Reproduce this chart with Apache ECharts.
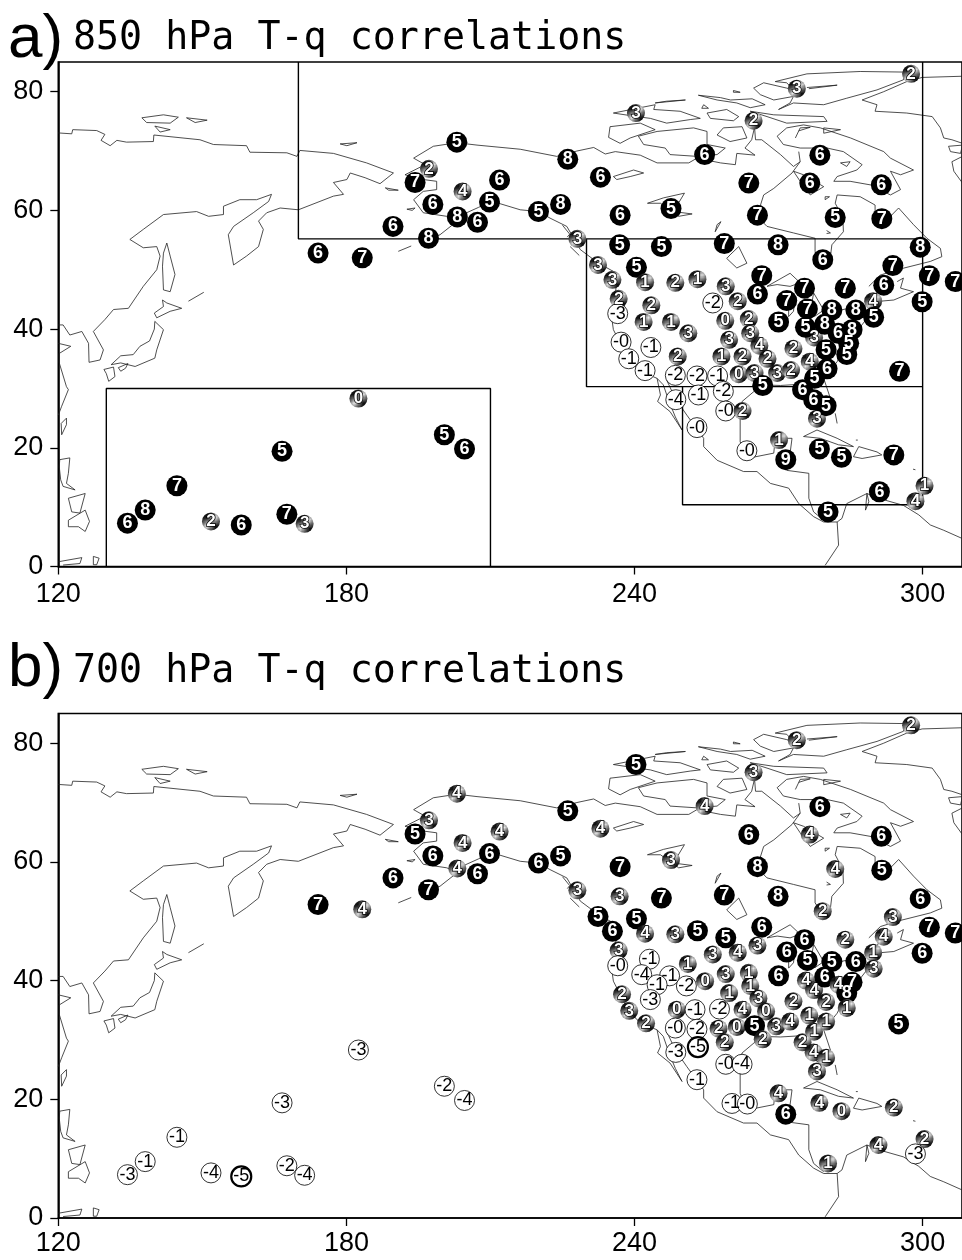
<!DOCTYPE html>
<html><head><meta charset="utf-8">
<style>html,body{margin:0;padding:0;background:#fff}#c{width:962px;height:1260px}</style>
<script src="https://cdn.jsdelivr.net/npm/echarts@6/dist/echarts.min.js"></script>
</head><body><div id="c"></div>
<script>
const xTicks = [120, 180, 240, 300];
const yTicks = [0, 20, 40, 60, 80];
const titleA = '850 hPa T-q correlations';
const titleB = '700 hPa T-q correlations';

// [longitude, latitude, correlation label]
const stationsA = [
[174.1,52.8,'6'],[183.3,52,'7'],[189.7,57.3,'6'],[197.1,55.3,'8'],[203.1,58.9,'8'],[207.3,58,'6'],[198,61,'6'],[197.2,67,'2'],[194.3,64.7,'7'],[203,71.5,'5'],[204.2,63.2,'4'],[209.8,61.4,'5'],[211.9,65.1,'6'],
[220,59.8,'5'],[224.6,61,'8'],[226.1,68.6,'8'],[232.9,65.6,'6'],[237,59.2,'6'],[247.6,60.3,'5'],[228.1,55.2,'3'],[236.9,54.2,'5'],[245.6,53.9,'5'],[258.7,54.4,'7'],[269.9,54.2,'8'],[279.2,51.7,'6'],[299.5,53.8,'8'],
[232.4,50.8,'3'],[235.4,48.3,'3'],[240.4,50.4,'5'],[242.2,47.9,'1'],[248.5,47.8,'2'],[253.1,48.4,'1'],[259,47.2,'3'],[266.5,49,'7'],[293.8,50.7,'7'],[301.4,49,'7'],[306.8,48,'7'],[291.9,47.4,'6'],[265.6,45.9,'6'],[261.5,44.7,'2'],[256.3,44.4,'-2'],[236.7,45.1,'2'],[299.9,44.6,'5'],
[240.3,76.4,'3'],[273.8,80.5,'3'],[297.6,83,'2'],[264.8,75.1,'2'],[254.6,69.4,'6'],[278.6,69.3,'6'],[276.5,64.6,'6'],[263.8,64.6,'7'],[291.4,64.3,'6'],[265.6,59.2,'7'],[281.8,58.8,'5'],[291.5,58.6,'7'],
[289.7,44.7,'4'],[277.4,38.6,'3'],[275.4,46.9,'7'],[271.7,44.8,'7'],[283.9,46.9,'7'],[270,41.2,'5'],[276,43.4,'7'],[281.1,43.2,'8'],[286.1,43.2,'8'],[289.8,42,'5'],[275.6,40.3,'5'],[284.6,37.6,'5'],[279.6,40.8,'8'],[285.3,39.9,'8'],[282.4,39.3,'6'],[284.2,35.7,'5'],[279.9,36.5,'5'],[295.2,32.9,'7'],[276.5,34.5,'4'],[280.1,33.3,'6'],[278,24.9,'3'],[277.5,31.7,'5'],[275,29.8,'6'],[277.3,28.1,'6'],[279.9,27.1,'5'],
[236.5,42.6,'-3'],[243.5,44,'2'],[241.9,41.2,'1'],[247.6,41.2,'1'],[251.2,39.3,'3'],[258.9,41.4,'0'],[263.8,41.7,'2'],[264.1,39.3,'3'],[259.7,38.2,'3'],[266,37.2,'4'],[273.1,36.7,'2'],[237.2,37.8,'-0'],[243.4,36.9,'-1'],[238.8,35,'-1'],[242.2,33,'-1'],[249,35.4,'2'],[258.1,35.4,'1'],[262.5,35.4,'2'],[267.7,35,'2'],
[248.5,32.2,'-2'],[253,32.1,'-2'],[257.3,32.1,'-1'],[261.7,32.4,'0'],[265,32.6,'3'],[269.7,32.6,'3'],[272.6,33.1,'2'],[266.7,30.5,'5'],[248.6,28.1,'-4'],[253.3,28.9,'-1'],[258.5,29.5,'-2'],[259,26.2,'-0'],[262.5,26.2,'2'],[253,23.4,'-0'],[263.4,19.5,'-0'],[270.1,21.3,'1'],[271.5,18,'9'],[278.5,19.8,'5'],[283.1,18.4,'5'],[294,18.8,'7'],[291,12.6,'6'],[300.4,13.6,'1'],[298.5,11,'4'],[280.3,9.2,'5'],
[182.5,28.3,'0'],[200.4,22.2,'5'],[204.6,19.8,'6'],[166.6,19.4,'5'],[144.7,13.6,'7'],[138.1,9.5,'8'],[134.4,7.3,'6'],[151.8,7.6,'2'],[158.1,7,'6'],[171.3,7.2,'3'],[167.6,8.8,'7']
];
const stationsB = [
[174.1,52.8,'7'],[183.3,52,'4'],[189.7,57.3,'6'],[197.1,55.3,'7'],[203.1,58.9,'4'],[207.3,58,'6'],[198,61,'6'],[197.2,67,'3'],[194.3,64.7,'5'],[203,71.5,'4'],[204.2,63.2,'4'],[209.8,61.4,'6'],[211.9,65.1,'4'],
[220,59.8,'6'],[224.6,61,'5'],[226.1,68.6,'5'],[232.9,65.6,'4'],[237,59.2,'7'],[247.6,60.3,'3'],[228.1,55.2,'3'],[236.9,54.2,'3'],[245.6,53.9,'7'],[258.7,54.4,'7'],[269.9,54.2,'8'],[279.2,51.7,'2'],[299.5,53.8,'6'],
[232.4,50.8,'5'],[235.4,48.3,'6'],[240.4,50.4,'5'],[242.2,47.9,'4'],[248.5,47.8,'3'],[253.1,48.4,'5'],[259,47.2,'5'],[266.5,49,'6'],[293.8,50.7,'3'],[301.4,49,'7'],[306.8,48,'7'],[291.9,47.4,'4'],[265.6,45.9,'3'],[261.5,44.7,'4'],[256.3,44.4,'3'],[236.7,45.1,'3'],[299.9,44.6,'6'],
[240.3,76.4,'5'],[273.8,80.5,'2'],[297.6,83,'2'],[264.8,75.1,'3'],[254.6,69.4,'4'],[278.6,69.3,'6'],[276.5,64.6,'4'],[263.8,64.6,'6'],[291.4,64.3,'6'],[265.6,59.2,'8'],[281.8,58.8,'4'],[291.5,58.6,'5'],
[275.4,46.9,'6'],[271.7,44.8,'6'],[283.9,46.9,'2'],[276,43.4,'5'],[281.1,43.2,'5'],[286.1,43.2,'6'],[289.7,44.7,'1'],[289.8,42,'3'],
[236.5,42.5,'-0'],[243.1,43.6,'-1'],[251.1,42.8,'1'],[241.5,41,'-4'],[247.3,40.8,'-1'],[244.7,39.3,'-1'],[250.8,39.1,'-2'],[254.7,39.9,'0'],[259,41.1,'3'],[263.8,41.3,'1'],[264.1,39.1,'1'],[259.7,37.9,'1'],[265.8,37,'3'],[270,40.8,'6'],[275.7,40,'4'],[277.4,38.4,'4'],[279.6,40.6,'6'],[282.5,39.3,'4'],[284.2,37.9,'8'],[285.3,39.7,'7'],[279.9,36.4,'2'],[273.1,36.5,'2'],[284.2,35.4,'1'],
[237.4,37.7,'2'],[238.9,34.9,'3'],[242.4,32.8,'2'],[243.3,36.8,'-3'],[248.8,35.1,'0'],[252.6,35.1,'-1'],[257.7,35.2,'-2'],[262.5,35.1,'4'],[267.4,34.8,'0'],[248.5,32,'-0'],[253,31.8,'-2'],[257.5,31.9,'2'],[261.3,32.2,'0'],[269.5,32.3,'3'],[265,32.4,'5'],[272.4,33.1,'4'],[276.4,34.1,'1'],[279.9,33.1,'1'],[277.4,31.4,'1'],[266.7,30.1,'2'],[258.8,29.6,'2'],[275,29.6,'2'],[277.3,27.9,'4'],[279.9,27,'1'],[278,24.7,'3'],[248.6,27.9,'-3'],[253.2,28.8,'-5'],[259,25.9,'-0'],[262.4,25.9,'-4'],[253,23.3,'-1'],[260.3,19.3,'-1'],[263.5,19.2,'-0'],[270,21,'4'],[271.5,17.5,'6'],[278.5,19.4,'4'],[283.1,18,'0'],[294,18.6,'2'],[290.8,12.3,'4'],[300.4,13.3,'2'],[298.5,10.8,'-3'],[280.3,9.2,'1'],[295,32.7,'5'],
[182.5,28.3,'-3'],[200.4,22.2,'-2'],[204.6,19.8,'-4'],[166.6,19.4,'-3'],[144.7,13.6,'-1'],[138.1,9.5,'-1'],[134.4,7.3,'-3'],[151.8,7.6,'-4'],[158.1,7,'-5'],[167.6,8.8,'-2'],[171.3,7.2,'-4']
];

// Analysis regions outlined in panel a, [lon, lat]
const regionBoxes = [
[[170,85],[170,55.2],[300,55.2]],
[[300,85],[300,10.4],[250,10.4],[250,30.3]],
[[230,55.2],[230,30.3],[300,30.3]],
[[130,0],[130,30],[210,30],[210,0]]
];

// Coastlines and lakes, [lon, lat]
const coastlines = [
[[120,73.05],[122.8,72.9],[123,73.6],[128,73.45],[129.7,72.8],[128.9,71.8],[130.8,70.9],[132.2,71.8],[134.2,71.5],[139.8,71.6],[139.9,72.7],[149.5,71.9],[152.3,71.1],[159.2,70.9],[159.9,69.8],[167.6,69.7],[169.7,69.1],[170.3,70.1],[177.3,69.6],[184.2,68],[189.8,66.3],[187,64.5],[183.9,65.5],[180.8,66.3],[180.1,65.2],[177.3,64.7],[179.4,62.7],[177.3,62.4],[170,60.1],[166.2,60.4],[163.4,59.6],[161.7,58.2],[162.7,56.8],[161.7,53.9],[159.2,52.3],[156.5,50.8],[156.1,51.1],[155.4,55.9],[156.5,57.3],[160.6,59.6],[163.8,61.5],[164.4,62.7],[161.3,61.8],[157.8,61.8],[154.4,60.7],[154.4,59.3],[151.3,59],[148.8,59.8],[141.9,59.3],[137.7,56.8],[134.9,55.1],[137.7,53.7],[140.5,53.9],[141.2,52.3],[140.5,50],[137.7,47.2],[134.6,43.5],[131.5,43.3],[129.7,41.6],[127.3,39.6],[129.4,36.5],[128.7,34.8],[126.4,34.4],[126.3,37.6],[124.9,39.6],[122.4,39],[121,40.7],[120,40.7]],
[[120,37.6],[122.6,37.1],[120.2,35.9],[120.2,34.3],[121.7,30.3],[122.1,29.8],[120.7,27],[120,25.5]],
[[141.9,52.8],[142.6,54.5],[143.3,52.3],[144.3,49.2],[143.3,46.3],[141.9,46.6],[141.7,50.6],[141.9,52.8]],
[[137.4,75.6],[141.9,76.1],[145,75.7],[143.3,74.7],[138.4,74.8],[137.4,75.6]],
[[146.7,75.6],[151,75.2],[148.5,74.8],[146.7,75.6]],
[[140.1,74.2],[143.3,73.6],[141.2,73.2],[140.1,74.2]],
[[178.7,71.2],[182.2,71.4],[180.1,70.9],[178.7,71.2]],
[[188.1,63.8],[190.8,63.4],[188.8,63.4],[188.1,63.8]],
[[192.6,60.2],[194.3,60.4],[193.7,60],[192.6,60.2]],
[[190.8,53.1],[193.5,54]],
[[147.1,44.7],[150.3,46.2]],
[[120.6,24.1],[121.7,25],[121.7,23.9],[120.7,22.2],[120.6,24.1]],
[[120.3,18],[122.4,18.3],[122.1,15.7],[121.7,14],[123.5,12.9],[121,13.5],[120.5,14.6],[120.2,16.8],[120.3,18]],
[[122.1,11.5],[125.6,12.3],[124.5,9],[122.8,9.2],[122.1,11.5]],
[[122.1,7.8],[125.6,9.5],[126.5,7.6],[125.6,5.9],[124.2,6.7],[122.1,6.7],[122.1,7.8]],
[[120,0.8],[124.9,1.5],[124.5,0.5],[121,0.25]],
[[127.3,1.7],[128.5,1.4],[128,0.3],[127.3,0.3],[127.3,1.7]],
[[140,42.7],[141.9,43.8],[141.7,44.9],[142.6,44.4],[145.7,43.5],[143.3,43],[140.5,41.9],[140,42.7]],
[[140.1,41.3],[141.9,39.9],[140.5,36.5],[140.1,35.1],[136,33.7],[133,34.3],[131,34],[133,35.5],[135.6,35.7],[137,37.1],[139,38],[140,40],[140.1,41.3]],
[[129.5,33.2],[131.5,33.6],[131.8,32],[130.5,31.2],[130,32.5],[129.5,33.2]],
[[132.5,33.5],[134.5,34.2],[134,33.4],[133,32.9],[132.5,33.5]],
[[197,55],[199.5,55.9],[203.1,58.2],[200.9,59],[196,59.6],[194,61.8],[196,63.2],[198.8,63.5],[198.8,64.9],[196,65.2],[192.2,66],[196.4,67.7],[194,68.8],[198.1,70.8],[203,71.4],[207.2,71],[216.2,70.3],[223.8,69.1],[228,70],[231.5,70.6],[233.9,69.5],[236,69.9],[241.2,69.3],[244.7,68],[251.3,68],[253,68.8],[257.9,68],[261,67.7],[261.3,69.6],[265.1,69.3],[263,70.5],[264.4,71.9],[265,74],[265.2,71.9],[266.5,71.9],[270.4,69.4],[273.1,67.4],[274.5,68.2],[274.2,69.9]],
[[274.5,68.2],[272.8,66.3],[269,63.7],[266.9,62.6],[265.5,59],[267.6,57.3],[273.1,56.2],[277.6,55.3],[277.6,53.1],[279,51.4],[280.8,52.2],[281.1,54.2],[283.5,56.4],[283.4,58.7],[281.8,61.2],[282.2,62.6],[287,62.3],[290.1,60.9],[290.1,59.8],[293.3,59],[295,60.4],[298.1,57.6],[300.9,55.3],[303.7,53.6],[304,52.2],[301.6,51.4],[294.7,50],[291.2,49.1],[288.8,47.2]],
[[294.7,48],[296,48.6],[295.4,46.9],[298.1,46.3],[294,44.9],[289.8,44.6],[291.2,47]],
[[203.1,58.9],[207.5,60.5],[209.8,61.4],[211.7,61.2],[216.2,60.1],[220,59.8],[222.4,58.7],[225.9,57.3],[228.7,53.4],[232.5,51.1],[236.3,49.4],[236,45],[235.3,41.6],[235.6,39.9],[238.8,34.8],[241.2,32.9],[244.7,31.7],[245.4,28.9],[244.8,27.8],[247.4,26.1],[249.9,23],[248.5,25.2],[247.1,28],[246,30.6],[244.7,31.7]],
[[225,57.5],[226.5,56],[226,55.5]],
[[226.6,53.9],[228.5,52.4]],
[[246.7,31.4],[248.5,28.3],[250.9,25.5],[254.4,21.6],[254.4,20.2],[257.2,17.9],[262.7,16],[265.5,16],[268.3,14],[272.1,13.2],[274.2,10.6],[277.3,8.4],[279.4,7.5],[282.2,7.5],[282.5,3.6],[279.7,0.2]],
[[266.5,30.6],[262.4,27.8],[262,26.1],[262,21],[263.4,18.2],[269,19.1],[269.3,21.6],[272.8,21.6],[272.4,19.1],[271.7,16.2],[276.3,15.7],[276.3,11.5],[277.3,9.2],[279.4,7.8]],
[[266.5,30.6],[270.4,30.5],[274.5,30.7],[276.3,29.5],[277.6,26.6],[279.4,25.8],[280.8,28.3],[279.4,31.7],[282.2,34.5],[284.2,37.9],[286.3,39.6],[288.4,41.8],[289.8,43.5],[289.8,44.6]],
[[281.8,25.8],[282.2,24.1]],
[[275.2,21.9],[278,23],[282.2,21.6],[285.6,20.2],[282.5,20.5],[278.7,21.6],[275.2,21.9]],
[[286.7,20.2],[290.5,19.3],[291.5,18.8],[287.4,18.2],[285.6,18.5],[286.7,20.2]],
[[286.1,21.3],[286.5,21.3]],[[298,16.4],[298.5,16.3]],
[[282.2,7.5],[283.2,8.1],[284.2,10.6],[288.4,12.3],[288.8,10.9],[288.1,9.5],[288.4,12.3],[290.8,11.5],[296,10.3],[299.2,8.7],[301.6,7],[304.4,6.1],[308.3,4.7]],
[[269.7,72.5],[271.7,73.9],[275.2,74.4],[278.7,73.9],[285,72.2],[291.9,69.9],[293.3,68.8],[298.1,66.8],[295.4,66],[293.3,66.6],[295.4,63.5],[293.3,62.6],[289.1,64.3],[284.9,64.9],[281.5,64.9],[282.2,65.7],[286.3,66.8],[287.4,67.7],[283.5,69.9],[280.1,70.5],[274.5,70.5],[271,71.1],[269.7,72.5]],
[[273.5,72.2],[274.5,73.9],[276.6,74],[274.2,73.4]],
[[279.4,73.9],[282.9,73.6],[279.4,73],[279.4,73.9]],
[[282.9,68],[284.9,68.2],[284.2,67.4],[282.9,68]],
[[273.1,66.6],[275.2,66],[279.4,64],[276.6,62.6],[274.5,64.9],[273.1,66.6]],
[[279.7,62.3],[280.6,62.3],[279.7,61.8],[279.7,62.3]],
[[280,56.6],[280.8,56.2],[280,56.1]],
[[269.3,81.7],[275.9,83],[287,83.4],[296.4,83.3],[296,82],[290.5,80.3],[284.2,78.9],[279.4,77.8],[273.1,78.1],[270,77],[272.4,78.1],[273.1,79.2],[269,78.6],[266.2,79.5],[264.8,80.6],[266.9,81.5],[271.7,80.6],[273.1,80.3],[271.7,81.5],[269.3,81.7]],
[[275.9,80.7],[282.2,81.1],[276.3,80.5]],
[[308.3,82.6],[299.9,82.4],[296.7,81.7],[291.9,80],[287.4,78.6],[290.5,77.8],[290.1,76.7],[296.7,76.4],[302,75.8],[303.7,73.9],[304.4,72.2],[306.1,71.9],[308.3,71.3]],
[[305.4,70.8],[308.3,71],[307.9,69.6],[305.8,69.9],[305.4,70.8]],
[[308.3,69.1],[306.1,68.2],[306.5,66.6],[308.3,64.6]],
[[260.6,80.2],[262,79.9],[260.6,79.9],[260.6,80.2]],
[[253.3,79.4],[257.9,79],[260,78.6],[264.5,78.8],[267.2,77.8],[264.1,77.3],[261.3,78.1],[257.2,78.6],[253.3,79.4]],
[[254.4,77.8],[255.4,77.2],[254,77.2],[254.4,77.8]],
[[255.1,76.4],[259.2,77],[261.7,75.8],[260.6,75.1],[255.8,75.5],[255.1,76.4]],
[[264.1,76.7],[269,76.1],[279.4,75.8],[280.1,75],[271.7,74.7],[267.6,75.8],[264.1,76.7]],
[[258.5,73.9],[262.4,74.1],[263.4,72.2],[259.9,71.6],[257.2,72.7],[258.5,73.9]],
[[235.6,76.4],[244.3,77.8],[244,77],[249.5,76.7],[253.7,75.5],[251.6,75.3],[246.7,74.7],[243.3,75.5],[240.5,75.8],[235.6,76.4]],
[[244.3,78.1],[250.6,78.6],[246.7,78.4],[244.3,78.1]],
[[240.8,72.5],[244.7,73.3],[252.3,73.9],[255.1,73.3],[255.1,71.1],[258.9,70.5],[257.2,69.4],[253,69.1],[247.4,69.4],[246.4,70.5],[241.9,71.1],[240.8,72.5]],
[[234.9,74.1],[241.2,74.7],[244.3,73.6],[239.1,72.2],[237,71.3],[234.6,72.3],[234.9,74.1]],
[[235.6,65.7],[239.8,66.8],[241.9,66.3],[239.1,65.7],[236.3,65.2],[235.6,65.7]],
[[242.7,61.2],[246,62.1],[250.4,62.9],[248.1,59.8],[252,59.4],[249.2,59],[245.4,61.2],[242.7,61.2]],
[[256.8,56.4],[258,58.1],[257.2,57.6],[256.8,56.4]],
[[259.9,52.5],[261.7,53.9],[263.4,51.1],[261.3,50.3],[259.2,51.9],[259.9,52.5]],
[[267.6,47.2],[272.4,49.4],[274.5,47.8],[272.4,47.2],[269.7,47.5],[267.6,47.2]],
[[272.1,44.4],[272.1,42.1],[273.1,43],[273.5,45.5],[272.1,44.4]],
[[277.3,46.1],[279.4,43.2],[277.6,42.2],[276.9,44.2],[277.3,46.1]],
[[278,41.8],[282.2,43]],[[282.9,43.2],[286.3,43.8]]
];

function hatch() {
  const c = document.createElement('canvas');
  c.width = 3; c.height = 3;
  const g = c.getContext('2d');
  g.fillStyle = '#111'; g.fillRect(0, 0, 3, 3);
  g.fillStyle = '#e8e8e8';
  g.fillRect(0, 2, 1, 1); g.fillRect(1, 1, 1, 1); g.fillRect(2, 0, 1, 1);
  return c;
}
const hatchPattern = { image: hatch(), repeat: 'repeat' };
const font = '"Liberation Sans", Arial, sans-serif';

function stationPoint(s) {
  const lab = s[2], neg = lab[0] === '-', n = Number(lab);
  if (neg) {
    const strong = lab === '-5';
    return { value: s, symbolSize: 20,
      itemStyle: { color: '#fff', borderColor: '#000', borderWidth: strong ? 2.2 : 0.8, opacity: 1 },
      label: { color: '#000', fontSize: 18, fontWeight: 'normal', textBorderWidth: 0 } };
  }
  if (n >= 5) {
    return { value: s, symbolSize: 21, itemStyle: { color: '#000', borderWidth: 0, opacity: 1 },
      label: { color: '#fff', fontSize: 18, fontWeight: 'bold', textBorderWidth: 0 } };
  }
  return { value: s, symbolSize: 18, itemStyle: { color: hatchPattern, borderWidth: 0, opacity: 1 },
    label: { color: '#fff', fontSize: 17, fontWeight: 'bold', textBorderColor: '#000', textBorderWidth: 1.5 } };
}
function polylineData(lines) {
  const out = [];
  lines.forEach(function (l, i) { if (i) out.push(['-', '-']); l.forEach(function (p) { out.push(p); }); });
  return out;
}
function lineSeries(idx, lines, color, width) {
  return { type: 'line', xAxisIndex: idx, yAxisIndex: idx, data: polylineData(lines), showSymbol: false,
    symbol: 'none', silent: true, connectNulls: false, clip: true, animation: false,
    lineStyle: { color: color, width: width }, z: 2 };
}
function stationSeries(idx, list) {
  return { type: 'scatter', xAxisIndex: idx, yAxisIndex: idx, data: list.map(stationPoint), symbol: 'circle',
    animation: false, silent: true, z: 5, clip: false,
    label: { show: true, position: 'inside', fontFamily: font, formatter: function (p) { return p.value[2]; } } };
}
function xAxis(idx, margin) {
  return { type: 'value', gridIndex: idx, min: 120, max: 308.2, position: 'bottom',
    axisLine: { show: true, onZero: false, lineStyle: { color: '#000', width: 1.6 } },
    axisTick: { show: true, length: 8, inside: false, customValues: xTicks, lineStyle: { color: '#000', width: 1.3 } },
    axisLabel: { show: true, customValues: xTicks, color: '#000', fontSize: 27, fontFamily: font, margin: margin, hideOverlap: false },
    splitLine: { show: false } };
}
function yAxis(idx) {
  return { type: 'value', gridIndex: idx, min: 0, max: 85, position: 'left',
    axisLine: { show: true, onZero: false, lineStyle: { color: '#000', width: 1.6 } },
    axisTick: { show: true, length: 8, inside: false, customValues: yTicks, lineStyle: { color: '#000', width: 1.3 } },
    axisLabel: { show: true, customValues: yTicks, color: '#000', fontSize: 27, fontFamily: font, margin: 15, hideOverlap: false },
    splitLine: { show: false } };
}
function heading(text, left, top, size, family) {
  return { text: text, left: left, top: top, padding: 0,
    textStyle: { fontSize: size, fontWeight: 'normal', fontFamily: family, color: '#000' } };
}
const mono = '"DejaVu Sans Mono", "Liberation Mono", monospace';
const chart = echarts.init(document.getElementById('c'), null, { renderer: 'canvas' });
chart.setOption({
  backgroundColor: '#fff', animation: false,
  title: [
    heading('a)', 8, 9, 62, font),
    heading(titleA, 73, 20, 38.3, mono),
    heading('b)', 8, 638, 62, font),
    heading(titleB, 73, 653, 38.3, mono)
  ],
  grid: [
    { left: 58.3, top: 62, width: 903.7, height: 504.5, show: true, borderColor: '#000', borderWidth: 1.6, backgroundColor: 'transparent' },
    { left: 58.3, top: 713.5, width: 903.7, height: 504.5, show: true, borderColor: '#000', borderWidth: 1.6, backgroundColor: 'transparent' }
  ],
  xAxis: [xAxis(0, 15), xAxis(1, 12)],
  yAxis: [yAxis(0), yAxis(1)],
  series: [
    lineSeries(0, coastlines, '#222', 0.8),
    lineSeries(0, regionBoxes, '#000', 1.4),
    stationSeries(0, stationsA),
    lineSeries(1, coastlines, '#222', 0.8),
    stationSeries(1, stationsB)
  ]
});
</script></body></html>
